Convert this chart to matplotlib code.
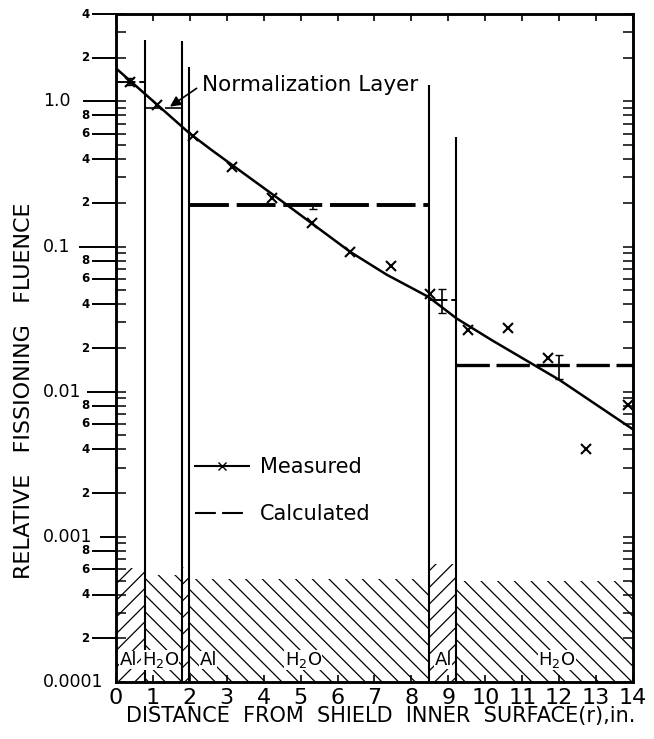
import matplotlib
matplotlib.use("Agg")
import matplotlib.pyplot as plt
from matplotlib.lines import Line2D
import numpy as np

# Measured fissioning fluence (x markers)
meas_x = [0.38, 1.10, 2.09, 3.13, 4.22, 5.30, 6.34, 7.44, 8.50, 9.54, 10.62, 11.70, 12.73, 13.86]
meas_y = [1.37, 0.94, 0.58, 0.355, 0.215, 0.145, 0.091, 0.073, 0.047, 0.0267, 0.0275, 0.0171, 0.0040, 0.0081]

# Smooth curve drawn through the measurements
fit_x = [0.0, 2.0, 2.6, 4.44, 6.34, 7.33, 8.46, 9.22, 10.17, 12.02, 14.0]
fit_y = [1.69, 0.60, 0.46, 0.21, 0.092, 0.064, 0.045, 0.032, 0.0227, 0.012, 0.0055]

# Calculated values (constant over each layer)
calc_x0 = [0.0, 0.78, 2.0, 8.46, 9.22]
calc_x1 = [0.78, 1.82, 8.46, 9.22, 14.0]
calc_y = [1.37, 0.90, 0.194, 0.043, 0.0153]
calc_lw = [1.4, 1.2, 2.8, 1.4, 2.4]

# Error bars on calculated values
err_x = [0.38, 5.33, 8.82, 12.0]
err_lo = [1.30, 0.18, 0.035, 0.0122]
err_hi = [1.45, 0.195, 0.051, 0.0178]

# Shield layers
layer_x0 = [0.0, 0.78, 1.78, 1.98, 8.47, 9.20]
layer_x1 = [0.78, 1.78, 1.98, 8.47, 9.20, 14.0]
layer_top = [0.00061, 0.00055, 0.00062, 0.00051, 0.00065, 0.00050]
layer_mat = ["Al", "H2O", "Al", "H2O", "Al", "H2O"]
label_x = [0.33, 1.2, 2.5, 5.07, 8.86, 11.94]
label_txt = ["Al", r"H$_2$O", "Al", r"H$_2$O", "Al", r"H$_2$O"]

# Layer boundary lines and how high they reach
bound_x = [0.78, 1.78, 1.98, 8.47, 9.20]
bound_top = [2.65, 2.6, 1.73, 1.3, 0.57]

# y tick labels
major_vals = [1e-4, 1e-3, 1e-2, 1e-1, 1.0]
major_labels = ["0.0001", "0.001", "0.01", "0.1", "1.0"]
major_out = [0, 11.5, 21, 27, 24]  # outward tick length, points
minor_vals = [2e-4, 4e-4, 6e-4, 8e-4, 2e-3, 4e-3, 6e-3, 8e-3,
              2e-2, 4e-2, 6e-2, 8e-2, 0.2, 0.4, 0.6, 0.8, 2, 4]
minor_labels = ["2", "4", "6", "8"] * 4 + ["2", "4"]

plt.rcParams["font.family"] = ["DejaVu Sans"]
plt.rcParams["hatch.linewidth"] = 0.9

fig = plt.figure(figsize=(6.54, 7.39), dpi=100)
ax = fig.add_axes([116 / 654, 1 - 682 / 739, 517 / 654, 668 / 739])
ax.set_yscale("log")
ax.set_xlim(0, 14)
ax.set_ylim(1e-4, 4)

# hatched shield layers
for x0, x1, top, mat in zip(layer_x0, layer_x1, layer_top, layer_mat):
    ax.fill_between([x0, x1], 1e-4, top, facecolor="none", edgecolor="black",
                    linewidth=0, hatch="//" if mat == "Al" else "\\\\")
for x, t in zip(label_x, label_txt):
    ax.text(x, 1.42e-4, t, ha="center", va="center", fontsize=13,
            bbox=dict(facecolor="white", edgecolor="none", pad=0.3))

ax.vlines(bound_x, 1e-4, bound_top, colors="black", linewidth=1.5)

# measured curve and points
ax.plot(fit_x, fit_y, color="black", linewidth=1.8)
ax.plot(meas_x, meas_y, linestyle="none", marker="x", color="black",
        markersize=7, markeredgewidth=1.5)

# calculated
for x0, x1, y, lw in zip(calc_x0, calc_x1, calc_y, calc_lw):
    ax.plot([x0, x1], [y, y], color="black", linewidth=lw, dashes=(10, 2))
err_y = np.sqrt(np.array(err_lo) * np.array(err_hi))
ax.errorbar(err_x, err_y, yerr=[err_y - np.array(err_lo), np.array(err_hi) - err_y],
            fmt="none", ecolor="black", elinewidth=1.2, capsize=3)

ax.annotate("Normalization Layer", xy=(1.46, 0.92), xytext=(2.32, 1.3),
            fontsize=15.5, va="center", ha="left",
            arrowprops=dict(arrowstyle="-|>", color="black", lw=1.2,
                            relpos=(0, 0.5), shrinkA=2, shrinkB=0))

# legend
handles = [Line2D([], [], color="black", linewidth=1.5, marker="x", markersize=6),
           Line2D([], [], color="black", linewidth=1.5, dashes=(10, 3))]
ax.legend(handles, ["Measured", "Calculated"], loc="upper left",
          bbox_to_anchor=(0.153, 0.337), frameon=False, fontsize=15,
          handlelength=2.6, handletextpad=0.5, labelspacing=1.3,
          borderpad=0, borderaxespad=0)

# x axis
ax.set_xticks(range(15))
ax.tick_params(axis="x", which="both", direction="in", top=True, length=5,
               width=1.2, labelsize=16, pad=4)

# y axis: labelled ticks outside on the left
ax.set_yticks(major_vals)
ax.set_yticklabels(major_labels, fontsize=12.5, ha="left", va="center")
ax.set_yticks(minor_vals, minor=True)
ax.set_yticklabels(minor_labels, minor=True, fontsize=8.5, fontweight="bold", va="center")
ax.tick_params(axis="y", which="major", direction="out", length=24, width=1.4, pad=28.6)
ax.tick_params(axis="y", which="minor", direction="out", length=17, width=1.4, pad=2)
for tk, ln in zip(ax.yaxis.get_major_ticks(), major_out):
    tk.tick1line.set_markersize(ln)

# short inner ticks on both sides
ax2 = ax.twinx()
ax2.set_yscale("log")
ax2.set_ylim(1e-4, 4)
ax2.tick_params(axis="y", which="both", left=True, right=True, direction="in",
                labelleft=False, labelright=False, length=7, width=1.1)

for a in (ax, ax2):
    for s in a.spines.values():
        s.set_linewidth(1.8)

fig.text(24 / 654, 1 - 391 / 739, "RELATIVE   FISSIONING   FLUENCE", rotation=90,
         ha="center", va="center", fontsize=16)
fig.text(381 / 654, 1 - 716 / 739, "DISTANCE  FROM  SHIELD  INNER  SURFACE(r),in.",
         ha="center", va="center", fontsize=15)

fig.savefig("out.png", dpi=100)
